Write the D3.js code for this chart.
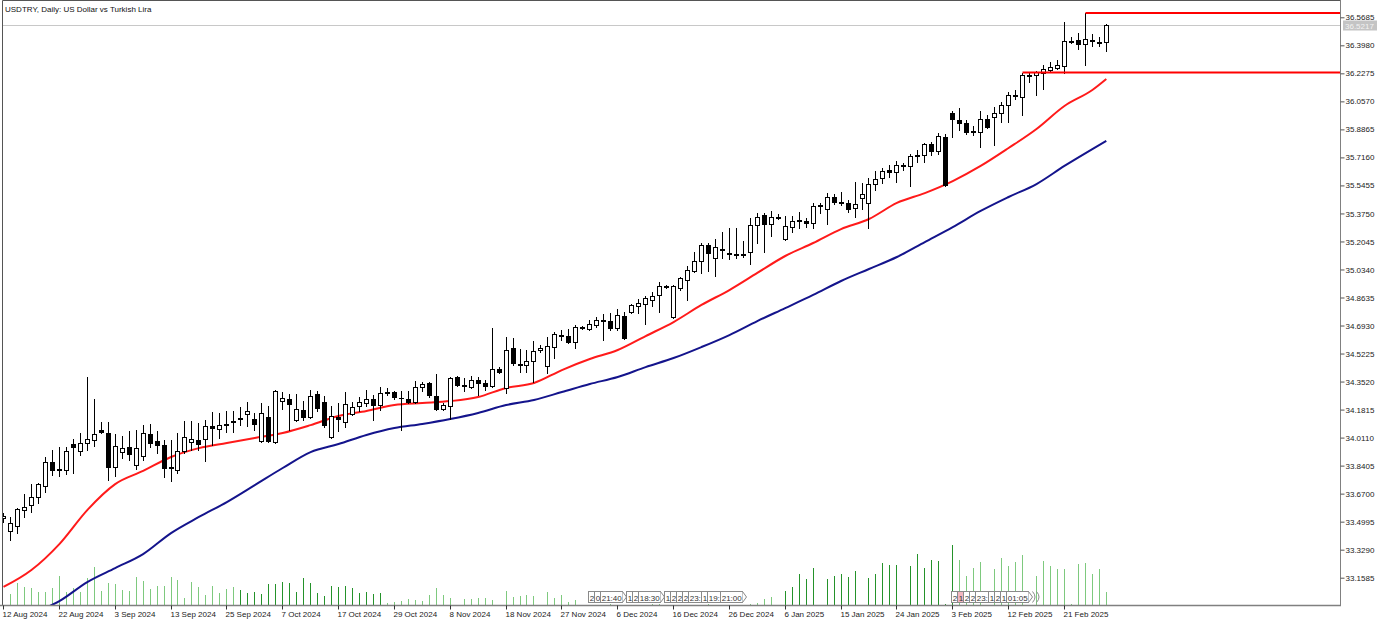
<!DOCTYPE html>
<html><head><meta charset="utf-8">
<script src="https://cdn.jsdelivr.net/npm/d3@7"></script>
<style>
body{margin:0;background:#fff;}
svg{display:block;font-family:"Liberation Sans",Arial,sans-serif;font-size:8px;}
</style></head><body><div id="chart"></div>
<script>
const title = 'USDTRY, Daily:  US Dollar vs Turkish Lira';
const xLabels = ['12 Aug 2024','22 Aug 2024','3 Sep 2024','13 Sep 2024','25 Sep 2024','7 Oct 2024',
  '17 Oct 2024','29 Oct 2024','8 Nov 2024','18 Nov 2024','27 Nov 2024','6 Dec 2024','16 Dec 2024',
  '26 Dec 2024','6 Jan 2025','15 Jan 2025','24 Jan 2025','3 Feb 2025','12 Feb 2025','21 Feb 2025'];
const yTicks = ['36.5685','36.3980','36.2275','36.0570','35.8865','35.7160','35.5455','35.3750',
  '35.2045','35.0340','34.8635','34.6930','34.5225','34.3520','34.1815','34.0110','33.8405',
  '33.6700','33.4995','33.3290','33.1585'];

// open, high, low, close per daily bar
const candles = [
[33.522,33.552,33.497,33.534],[33.442,33.527,33.388,33.491],[33.473,33.582,33.430,33.576],[33.570,33.668,33.528,33.588],
[33.601,33.728,33.558,33.649],[33.649,33.734,33.613,33.728],[33.716,33.893,33.680,33.862],[33.862,33.935,33.783,33.814],
[33.820,33.954,33.777,33.814],[33.814,33.954,33.789,33.929],[33.972,34.002,33.795,33.954],[33.929,34.039,33.905,33.978],
[33.978,34.380,33.935,34.002],[33.996,34.246,33.960,34.033],[34.057,34.106,34.039,34.045],[34.039,34.106,33.753,33.832],
[33.832,34.033,33.777,33.960],[33.923,34.021,33.887,33.948],[33.954,34.051,33.874,33.911],[33.844,34.057,33.820,33.948],
[33.899,34.087,33.874,34.039],[34.033,34.094,33.954,33.978],[33.990,34.051,33.917,33.966],[33.966,33.996,33.771,33.826],
[33.832,33.996,33.747,33.826],[33.814,34.039,33.795,33.929],[33.929,34.112,33.917,34.015],[33.984,34.112,33.935,34.002],
[33.996,34.100,33.935,33.972],[34.002,34.118,33.868,34.081],[34.081,34.167,33.966,34.069],[34.063,34.161,34.008,34.087],
[34.094,34.173,34.045,34.087],[34.106,34.173,34.045,34.112],[34.124,34.197,34.087,34.130],[34.154,34.227,34.081,34.173],
[34.124,34.161,34.057,34.094],[33.990,34.221,33.984,34.161],[34.136,34.203,33.984,33.990],[33.984,34.301,33.978,34.294],
[34.234,34.288,34.185,34.252],[34.246,34.276,34.057,34.215],[34.118,34.276,34.112,34.185],[34.179,34.234,34.118,34.136],
[34.136,34.301,34.130,34.264],[34.276,34.294,34.173,34.191],[34.227,34.264,34.075,34.087],[34.015,34.203,34.008,34.142],
[34.136,34.221,34.051,34.124],[34.106,34.288,34.075,34.215],[34.154,34.227,34.148,34.197],[34.203,34.258,34.173,34.227],
[34.221,34.301,34.203,34.246],[34.246,34.270,34.118,34.209],[34.209,34.319,34.179,34.282],[34.282,34.313,34.270,34.288],
[34.288,34.294,34.246,34.258],[34.252,34.294,34.057,34.249],[34.246,34.294,34.221,34.227],[34.227,34.355,34.221,34.319],
[34.319,34.349,34.294,34.337],[34.343,34.349,34.258,34.270],[34.264,34.398,34.179,34.185],[34.185,34.221,34.179,34.209],
[34.203,34.380,34.124,34.374],[34.380,34.386,34.325,34.331],[34.331,34.374,34.294,34.325],[34.319,34.386,34.313,34.361],
[34.361,34.380,34.270,34.343],[34.343,34.361,34.301,34.325],[34.325,34.678,34.319,34.428],[34.428,34.440,34.404,34.410],
[34.313,34.623,34.282,34.544],[34.556,34.617,34.453,34.465],[34.459,34.550,34.410,34.453],[34.453,34.544,34.410,34.477],
[34.477,34.599,34.349,34.538],[34.544,34.574,34.532,34.556],[34.447,34.623,34.404,34.568],[34.562,34.653,34.495,34.641],
[34.629,34.666,34.605,34.635],[34.629,34.672,34.587,34.593],[34.593,34.696,34.556,34.684],[34.678,34.690,34.672,34.684],
[34.672,34.727,34.666,34.702],[34.696,34.745,34.684,34.727],[34.727,34.763,34.605,34.720],[34.720,34.769,34.666,34.678],
[34.678,34.793,34.666,34.757],[34.751,34.775,34.611,34.617],[34.775,34.824,34.769,34.818],[34.812,34.854,34.769,34.830],
[34.824,34.873,34.702,34.860],[34.848,34.897,34.812,34.873],[34.879,34.958,34.775,34.933],[34.927,34.939,34.921,34.933],
[34.745,34.939,34.739,34.933],[34.921,34.988,34.909,34.982],[34.970,35.055,34.848,35.031],[35.025,35.140,35.019,35.086],
[35.086,35.195,35.013,35.183],[35.183,35.195,35.025,35.134],[35.104,35.219,34.994,35.171],[35.159,35.262,35.104,35.153],
[35.134,35.286,35.098,35.131],[35.128,35.286,35.104,35.125],[35.128,35.207,35.110,35.122],[35.140,35.347,35.067,35.305],
[35.305,35.378,35.195,35.353],[35.366,35.378,35.140,35.311],[35.311,35.390,35.238,35.353],[35.353,35.372,35.341,35.347],
[35.219,35.359,35.213,35.299],[35.292,35.359,35.262,35.329],[35.329,35.384,35.286,35.335],[35.329,35.347,35.292,35.317],
[35.317,35.439,35.286,35.420],[35.420,35.439,35.378,35.426],[35.402,35.499,35.311,35.475],[35.475,35.493,35.432,35.445],
[35.445,35.506,35.426,35.439],[35.439,35.457,35.384,35.402],[35.408,35.566,35.353,35.432],[35.469,35.560,35.402,35.493],
[35.439,35.591,35.286,35.554],[35.554,35.633,35.518,35.585],[35.591,35.652,35.560,35.633],[35.639,35.670,35.597,35.627],
[35.627,35.694,35.566,35.670],[35.670,35.682,35.639,35.664],[35.664,35.737,35.542,35.725],[35.725,35.761,35.688,35.731],
[35.731,35.804,35.688,35.798],[35.798,35.810,35.731,35.755],[35.755,35.865,35.737,35.846],[35.840,35.858,35.542,35.548],
[35.986,35.998,35.840,35.950],[35.944,36.017,35.883,35.925],[35.925,35.944,35.858,35.871],[35.877,35.907,35.852,35.871],
[35.871,35.998,35.779,35.950],[35.950,35.974,35.895,35.901],[35.962,36.023,35.792,35.986],[35.986,36.053,35.932,36.035],
[36.035,36.114,35.932,36.096],[36.096,36.126,36.072,36.090],[36.084,36.232,35.974,36.218],[36.211,36.232,36.175,36.218],
[36.218,36.242,36.096,36.236],[36.230,36.278,36.132,36.254],[36.248,36.297,36.242,36.266],[36.260,36.309,36.254,36.278],
[36.272,36.540,36.230,36.424],[36.418,36.449,36.412,36.424],[36.431,36.473,36.376,36.406],[36.406,36.595,36.278,36.437],
[36.431,36.467,36.394,36.424],[36.418,36.449,36.394,36.412],[36.418,36.526,36.364,36.5217]
];

const volumes = [
0,11,22,18,17,13,13,17,29,13,17,13,27,38,14,22,21,15,14,28,24,16,19,19,28,25,7,23,18,10,19,12,16,18,15,12,
13,11,21,21,23,22,13,27,22,12,9,19,18,19,17,12,13,11,12,2,3,4,6,5,4,10,17,10,7,0,6,6,7,7,5,0,14,8,9,10,9,0,
13,7,10,3,5,0,0,0,0,1,0,0,0,0,0,1,1,0,0,0,0,0,0,1,0,0,0,0,0,1.5,2,6,8,0,14,18,31,26,37,0,26,29,31,28,34,0,
27,31,42,40,40,0,39,51,37,45,44,1,60,45,29,37,43,0,36,47,39,43,50,0,29,44,39,36,36,1,41,42,31,36,13
];
const volDark = [[34,54],[112,136]];

const maBars = [0,4,8,12,16,20,24,28,32,36,40,44,48,52,56,60,64,68,72,76,80,84,88,92,96,100,104,108,112,116,120,124,128,132,136,140,144,148,152,156,158];
const maRed = [33.102,33.205,33.363,33.570,33.728,33.808,33.893,33.947,33.978,34.008,34.039,34.087,34.142,34.173,34.209,34.221,34.233,34.258,34.313,34.343,34.422,
  34.489,34.544,34.629,34.714,34.818,34.909,35.013,35.116,35.195,35.280,35.341,35.439,35.499,35.572,35.664,35.773,35.889,36.029,36.126,36.193];
const maBlue = [32.852,32.937,33.016,33.132,33.217,33.302,33.430,33.528,33.619,33.722,33.826,33.923,33.972,34.027,34.069,34.094,34.124,34.161,34.209,34.240,34.288,
  34.337,34.380,34.440,34.495,34.562,34.635,34.720,34.799,34.879,34.964,35.037,35.110,35.201,35.292,35.390,35.475,35.554,35.664,35.767,35.816];

const levels = [[146,36.232],[155,36.595]];
const bid = 36.5217;
const eventsA = ['2','0','21:40','1','2','18:30','1','2','2','2','23:','1','19:','21:00'];
const eventsB = ['2','1','2','2','23:','1','2','1','01:05'];
const eventStart = [84,136];

const W = 1388, H = 626, R = 1340, B = 605;
const svg = d3.select('#chart').append('svg').attr('width',W).attr('height',H);
const x = d3.scaleLinear().domain([0,158]).range([3.5,1106.3]);
const y = d3.scaleLinear().domain([33.1585,36.5685]).range([577.7,17.3]);
const vol = d3.scaleLinear().domain([0,100]).range([B,B-100]);
const px = i => Math.floor(x(i)) + 0.5;

svg.append('clipPath').attr('id','plot').append('rect')
  .attr('x',2).attr('y',1).attr('width',R-2).attr('height',B-1);
const plot = svg.append('g').attr('clip-path','url(#plot)');

// volumes
plot.append('g').attr('shape-rendering','crispEdges').selectAll('line')
  .data(volumes.map((v,i) => [i,v]).filter(d => d[1] > 0)).enter().append('line')
  .attr('x1',d => px(d[0])).attr('x2',d => px(d[0]))
  .attr('y1',B).attr('y2',d => Math.round(vol(d[1])))
  .attr('stroke',d => volDark.some(r => d[0] >= r[0] && d[0] <= r[1]) ? '#24922a' : '#7ec97e');

// bid line
plot.append('line').attr('x1',2).attr('x2',R).attr('y1',Math.round(y(bid))+0.5).attr('y2',Math.round(y(bid))+0.5)
  .attr('stroke','#c8c8c8');

// event boxes
function events(list, start, hi, tail) {
  let g = svg.append('g');
  let cx = px(start) - 1;
  list.forEach((t,i) => {
    let b = g.append('g');
    let r = b.append('rect').attr('y',591.5).attr('height',11)
      .attr('fill', i === hi ? '#f2b6c0' : '#fff').attr('stroke','#8a8a8a');
    let tx = b.append('text').attr('x',cx+1.2).attr('y',600.5).attr('fill','#333').text(t);
    let w = Math.round(tx.node().getComputedTextLength()) + 2;
    r.attr('x',cx).attr('width',w);
    cx += w;
    if (t.length === 5) {
      g.append('path').attr('d','M'+cx+',591.5 L'+(cx+4)+',597 L'+cx+',602.5')
        .attr('fill','#fff').attr('stroke','#8a8a8a');
      cx += 4;
      if (tail && i === list.length-1) {
        [4,8].forEach(o => g.append('path').attr('d','M'+(cx+o-4)+',591.5 Q'+(cx+o+1)+',597 '+(cx+o-4)+',602.5')
          .attr('fill','none').attr('stroke','#8a8a8a'));
      }
    }
  });
}
events(eventsA, eventStart[0], -1, false);
events(eventsB, eventStart[1], 1, true);

// moving averages
function ma(vals, color) {
  plot.append('path').attr('fill','none').attr('stroke',color).attr('stroke-width',2)
    .attr('d', d3.line().curve(d3.curveMonotoneX)(maBars.map((b,i) => [x(b), y(vals[i])])));
}
ma(maBlue,'#14148c');
ma(maRed,'#ff1a1a');

// candles
let c = plot.append('g').attr('shape-rendering','crispEdges').selectAll('g').data(candles).enter()
  .append('g').attr('transform',(d,i) => 'translate(' + px(i) + ',0)');
c.append('line').attr('x1',0).attr('x2',0)
  .attr('y1',d => Math.round(y(d[1]))).attr('y2',d => Math.round(y(d[2]))+1).attr('stroke','#000');
c.each(function(d) {
  let top = Math.round(y(Math.max(d[0],d[3]))), bot = Math.round(y(Math.min(d[0],d[3])));
  let g = d3.select(this);
  if (bot - top < 1) {
    g.append('line').attr('x1',-2.5).attr('x2',2.5).attr('y1',top+0.5).attr('y2',top+0.5).attr('stroke','#000');
  } else {
    g.append('rect').attr('x',-2).attr('y',top+0.5).attr('width',4).attr('height',bot-top)
      .attr('fill',d[3] >= d[0] ? '#fff' : '#000').attr('stroke','#000');
  }
});

// support / resistance levels
plot.selectAll('line.lvl').data(levels).enter().append('line').attr('class','lvl')
  .attr('x1',d => px(d[0])).attr('x2',R).attr('y1',d => y(d[1])).attr('y2',d => y(d[1]))
  .attr('stroke','#ff0000').attr('stroke-width',2);

// frame
svg.append('path').attr('d','M2.5,'+B+' V0.5 H'+(R+0.5)).attr('fill','none').attr('stroke','#555');
svg.append('line').attr('x1',R+0.5).attr('x2',R+0.5).attr('y1',0).attr('y2',B+1).attr('stroke','#808080');
svg.append('line').attr('x1',0).attr('x2',R+1).attr('y1',B+0.5).attr('y2',B+0.5).attr('stroke','#808080').attr('stroke-width',1.5);

// axes
let ya = svg.append('g').attr('transform','translate('+(R+0.5)+',0)')
  .call(d3.axisRight(y).tickValues(yTicks.map(Number)).tickFormat((d,i) => yTicks[i]).tickSize(4).tickPadding(1));
ya.select('.domain').remove();
ya.selectAll('line').attr('stroke','#555');
ya.selectAll('text').attr('fill','#222').style('font-size','8px').style('font-family','"Liberation Sans",Arial,sans-serif');

let xa = svg.append('g').attr('transform','translate(0,'+(B+0.5)+')')
  .call(d3.axisBottom(x).tickValues(d3.range(0,160,8)).tickFormat((d,i) => xLabels[i]).tickSize(4).tickPadding(2));
xa.select('.domain').remove();
xa.selectAll('.tick').attr('transform',d => 'translate(' + px(d) + ',0)');
xa.selectAll('line').attr('stroke','#333');
xa.selectAll('text').attr('text-anchor','start').attr('x',-1).attr('fill','#222')
  .style('font-size','8px').style('font-family','"Liberation Sans",Arial,sans-serif');

// current price tag
let ty = Math.round(y(bid));
svg.append('rect').attr('x',R+3).attr('y',ty-4.5).attr('width',34).attr('height',10).attr('fill','#c4c4c4');
svg.append('text').attr('x',R+5).attr('y',ty+3.5).attr('fill','#f2f2f2').text(bid.toFixed(4));

svg.append('text').attr('x',5).attr('y',12).attr('fill','#111').text(title);
</script></body></html>
